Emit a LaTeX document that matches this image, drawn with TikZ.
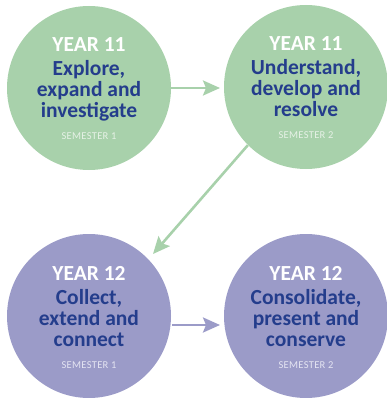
\documentclass[tikz,border=0pt]{standalone}
\usepackage{fontspec}
\setmainfont{Carlito}
\usetikzlibrary{arrows.meta}
\definecolor{grn}{HTML}{A8D1AB}
\definecolor{prp}{HTML}{9B9BC8}
\definecolor{ttl}{HTML}{243D8C}
\definecolor{semg}{HTML}{E6F1E6}
\definecolor{semp}{HTML}{E4E4F2}
\tikzset{
  stage/.style={circle, minimum size=164pt, inner sep=0pt, draw=none},
  stagetext/.style={align=center, text=ttl, font=\fontsize{21.5}{21}\selectfont\bfseries, inner sep=0pt},
  flow/.style={line width=2.6pt, -{Stealth[length=17pt,width=15pt,inset=3pt]}},
}
\newcommand{\yr}[1]{\textcolor{white}{#1}}
\newcommand{\sem}[2]{{\fontsize{10.5}{10}\selectfont\mdseries\addfontfeature{LetterSpace=3}\color{#1}#2}}
\begin{document}
\begin{tikzpicture}[x=1pt,y=-1pt]
\useasboundingbox (0,0) rectangle (387,398);
\node[stage, fill=grn] (c1) at (89,88) {};
\node[stage, fill=grn] (c2) at (306,87) {};
\node[stage, fill=prp] (c3) at (89,316) {};
\node[stage, fill=prp] (c4) at (306,316) {};
\node[stagetext] (t1) at ([yshift=-1pt]c1) {\yr{YEAR 11}\\[3pt]Explore,\\expand and\\investigate\\[1pt]\sem{semg}{SEMESTER 1}};
\node[stagetext] (t2) at ([yshift=-1pt]c2) {\yr{YEAR 11}\\[3pt]Understand,\\develop and\\resolve\\[1pt]\sem{semg}{SEMESTER 2}};
\node[stagetext] (t3) at ([yshift=-1pt]c3) {\yr{YEAR 12}\\[3pt]Collect,\\extend and\\connect\\[1pt]\sem{semp}{SEMESTER 1}};
\node[stagetext] (t4) at ([yshift=-1pt]c4) {\yr{YEAR 12}\\[3pt]Consolidate,\\present and\\conserve\\[1pt]\sem{semp}{SEMESTER 2}};
\coordinate (a1s) at (172,88);
\coordinate (a1e) at (220,88);
\coordinate (a3s) at (172,325);
\coordinate (a3e) at (220,325);
\draw[flow, grn] (c1.east |- a1s) -- (a1e);
\draw[flow, grn] (c2.225) -- (153,254) coordinate (a2e);
\draw[flow, prp] (a3s) -- (a3e);
\end{tikzpicture}
\end{document}
